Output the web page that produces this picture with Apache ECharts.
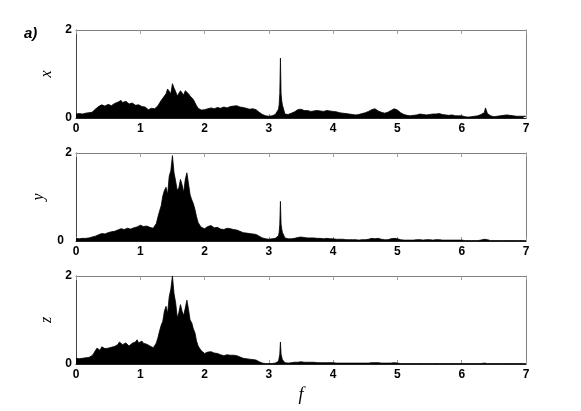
<!DOCTYPE html>
<html><head><meta charset="utf-8">
<script src="https://cdn.jsdelivr.net/npm/echarts/dist/echarts.min.js"></script>
<style>html,body{margin:0;padding:0;background:#fff}#c{width:581px;height:411px}</style>
</head><body><div id="c"></div>
<script>
// frequency grid 0..7 step 0.05 (141 samples) and half-step samples 0.025..2.975 (60 samples)
const gridF = Array.from({length:141},(_,i)=>Math.round(i*5)/100);
const midF = Array.from({length:60},(_,i)=>Math.round(25+i*50)/1000);
const panelNames = ['x','y','z'];
const xAxisName = 'f';
const panelTag = 'a)';

const xVals = [
0.09,0.10,0.09,0.11,0.12,0.13,0.20,0.26,0.30,0.27,0.31,0.28,0.33,0.36,0.40,0.34,0.36,0.30,0.32,0.27,
0.29,0.24,0.22,0.20,0.19,0.24,0.34,0.45,0.55,0.62,0.78,0.60,0.52,0.58,0.62,0.55,0.48,0.35,0.22,0.18,
0.19,0.21,0.23,0.21,0.24,0.22,0.25,0.23,0.26,0.27,0.28,0.25,0.24,0.22,0.20,0.21,0.19,0.13,0.08,0.05,
0.04,0.05,0.08,0.20,0.40,0.09,0.08,0.11,0.14,0.19,0.20,0.17,0.17,0.15,0.16,0.17,0.16,0.15,0.17,0.16,
0.15,0.14,0.12,0.11,0.10,0.09,0.08,0.07,0.08,0.10,0.12,0.15,0.19,0.21,0.16,0.13,0.11,0.13,0.17,0.21,
0.18,0.12,0.08,0.06,0.05,0.06,0.07,0.09,0.08,0.07,0.08,0.09,0.09,0.10,0.08,0.07,0.06,0.07,0.05,0.05,
0.05,0.03,0.02,0.03,0.04,0.05,0.08,0.12,0.10,0.05,0.03,0.04,0.05,0.06,0.07,0.06,0.05,0.04,0.04,0.04,
0.04];
const yVals = [
0.06,0.05,0.06,0.06,0.07,0.09,0.11,0.14,0.17,0.16,0.19,0.21,0.22,0.25,0.28,0.26,0.29,0.27,0.30,0.32,
0.36,0.33,0.34,0.31,0.29,0.40,0.68,1.02,1.22,1.47,1.94,1.36,1.21,1.28,1.40,1.30,0.94,0.72,0.42,0.31,
0.28,0.33,0.35,0.30,0.31,0.27,0.26,0.29,0.28,0.26,0.25,0.22,0.19,0.18,0.17,0.16,0.15,0.11,0.07,0.05,
0.04,0.05,0.06,0.12,0.28,0.07,0.05,0.05,0.06,0.08,0.09,0.08,0.07,0.07,0.07,0.06,0.06,0.05,0.06,0.05,
0.05,0.04,0.04,0.04,0.03,0.03,0.03,0.03,0.02,0.03,0.03,0.04,0.06,0.05,0.06,0.04,0.03,0.03,0.05,0.06,
0.05,0.03,0.02,0.02,0.02,0.02,0.03,0.03,0.02,0.03,0.03,0.02,0.03,0.03,0.02,0.02,0.02,0.02,0.02,0.02,
0.02,0.01,0.01,0.01,0.01,0.01,0.02,0.04,0.03,0.01,0.01,0.01,0.01,0.01,0.01,0.01,0.01,0.01,0.01,0.01,
0.01];
const zVals = [
0.13,0.12,0.13,0.14,0.15,0.19,0.30,0.34,0.39,0.35,0.36,0.38,0.40,0.44,0.52,0.46,0.45,0.43,0.45,0.55,
0.49,0.47,0.45,0.41,0.37,0.48,0.75,0.97,1.31,1.53,2.00,1.39,1.17,1.20,1.27,1.24,0.94,0.71,0.41,0.30,
0.24,0.27,0.28,0.25,0.24,0.21,0.19,0.21,0.20,0.20,0.19,0.16,0.13,0.12,0.11,0.10,0.09,0.05,0.02,0.01,
0.01,0.01,0.02,0.06,0.16,0.03,0.02,0.03,0.04,0.04,0.05,0.04,0.04,0.04,0.04,0.03,0.03,0.03,0.03,0.03,
0.03,0.02,0.02,0.02,0.02,0.02,0.02,0.02,0.02,0.02,0.02,0.02,0.03,0.03,0.03,0.02,0.02,0.02,0.02,0.03,
0.02,0.01,0.01,0.01,0.01,0.01,0.01,0.01,0.01,0.01,0.01,0.01,0.01,0.01,0.01,0.01,0.01,0.01,0.01,0.01,
0.01,0.01,0.01,0.01,0.01,0.01,0.01,0.02,0.01,0.01,0.01,0.01,0.01,0.01,0.01,0.01,0.01,0.01,0.01,0.01,
0.01];
// half-step samples (noisy low-frequency part)
const xMid = [
0.11,0.08,0.10,0.12,0.10,0.16,0.22,0.24,0.32,0.25,0.34,0.26,0.30,0.38,0.35,0.38,0.32,0.34,0.29,0.30,
0.26,0.25,0.19,0.22,0.21,0.28,0.40,0.50,0.66,0.55,0.68,0.50,0.62,0.52,0.66,0.50,0.42,0.28,0.20,0.20,
0.22,0.19,0.24,0.20,0.25,0.24,0.22,0.27,0.24,0.29,0.26,0.27,0.22,0.23,0.19,0.22,0.16,0.10,0.06,0.04];
const yMid = [
0.05,0.07,0.05,0.07,0.08,0.10,0.13,0.15,0.18,0.18,0.20,0.23,0.20,0.27,0.25,0.30,0.26,0.31,0.28,0.35,
0.34,0.36,0.30,0.33,0.32,0.55,0.80,1.15,1.05,1.60,1.55,1.15,1.40,1.10,1.55,1.05,0.85,0.55,0.36,0.29,
0.31,0.36,0.32,0.33,0.28,0.30,0.28,0.27,0.30,0.24,0.23,0.21,0.19,0.16,0.18,0.15,0.13,0.09,0.06,0.04];
const zMid = [
0.12,0.14,0.12,0.15,0.17,0.24,0.36,0.31,0.40,0.38,0.34,0.41,0.43,0.50,0.44,0.48,0.41,0.47,0.50,0.48,
0.52,0.44,0.47,0.39,0.42,0.60,0.88,1.20,1.15,1.70,1.60,1.05,1.35,1.10,1.45,1.00,0.80,0.52,0.35,0.27,
0.26,0.29,0.25,0.27,0.22,0.20,0.22,0.19,0.22,0.18,0.17,0.14,0.13,0.11,0.11,0.08,0.07,0.03,0.02,0.01];
// extra fine samples around the narrow peaks
const peakF = [3.16,3.17,3.18,3.19,3.21,6.37];
const xPeak = [0.30,0.55,1.36,0.55,0.30,0.23];
const yPeak = [0.20,0.38,0.90,0.38,0.20,0.08];
const zPeak = [0.10,0.22,0.50,0.22,0.10,0.03];

function build(vals, mids, peaks){
  const pts = gridF.map((f,i)=>[f, vals[i]]);
  midF.forEach((f,i)=>pts.push([f, mids[i]]));
  peakF.forEach((f,i)=>pts.push([f, peaks[i]]));
  pts.sort((a,b)=>a[0]-b[0]);
  return pts;
}
const seriesData = [build(xVals,xMid,xPeak), build(yVals,yMid,yPeak), build(zVals,zMid,zPeak)];

const tops = [30,153,276];
const nameGaps = [19,28,19];
const lblFont = {fontFamily:'Liberation Sans, Arial, sans-serif', fontWeight:'bold', fontSize:12, color:'#000'};
const grids=[], xAxes=[], yAxes=[], series=[];
for (let i=0;i<3;i++){
  grids.push({left:76,right:55,top:tops[i],height:88});
  xAxes.push({
    type:'value', gridIndex:i, position:'bottom', min:0, max:7, interval:1,
    axisLine:{show:true,onZero:false,lineStyle:{color:'#222',width:1}},
    axisTick:{show:true,inside:true,length:4,lineStyle:{color:'#999'}},
    axisLabel:Object.assign({margin:5}, lblFont),
    splitLine:{show:false},
    name: i===2 ? xAxisName : '',
    nameLocation:'middle', nameGap:22,
    nameTextStyle:{fontFamily:'Liberation Serif, Times New Roman, serif', fontStyle:'italic', fontSize:18, color:'#000'}
  });
  xAxes.push({
    type:'value', gridIndex:i, position:'top', min:0, max:7, interval:1,
    axisLine:{show:true,onZero:false,lineStyle:{color:'#808080',width:1}},
    axisTick:{show:true,inside:true,length:4,lineStyle:{color:'#a0a0a0'}},
    axisLabel:{show:false}, splitLine:{show:false}
  });
  yAxes.push({
    type:'value', gridIndex:i, position:'left', min:0, max:2, interval:2,
    axisLine:{show:true,onZero:false,lineStyle:{color:'#444',width:1}},
    axisTick:{show:false},
    axisLabel:Object.assign({margin:4,
      formatter: v => (i===1 && v===0) ? '{p|0}' : String(v),
      rich:{p:Object.assign({padding:[0,8,0,0]}, lblFont)}}, lblFont),
    splitLine:{show:false},
    name: panelNames[i], nameLocation:'middle', nameRotate:90, nameGap:nameGaps[i],
    nameTextStyle:{fontFamily:'Liberation Serif, Times New Roman, serif', fontStyle:'italic', fontSize:16, color:'#000'}
  });
  yAxes.push({
    type:'value', gridIndex:i, position:'right', min:0, max:2, interval:2,
    axisLine:{show:true,onZero:false,lineStyle:{color:'#808080',width:1}},
    axisTick:{show:false}, axisLabel:{show:false}, splitLine:{show:false}
  });
  series.push({
    type:'line', xAxisIndex:2*i, yAxisIndex:2*i, data:seriesData[i],
    showSymbol:false, symbol:'none', animation:false,
    lineStyle:{color:'#000',width:0.8},
    areaStyle:{color:'#000',opacity:1}
  });
}

const chart = echarts.init(document.getElementById('c'), null, {renderer:'canvas'});
chart.setOption({
  backgroundColor:'#fff',
  animation:false,
  grid:grids, xAxis:xAxes, yAxis:yAxes, series:series,
  graphic:[{type:'text', left:24, top:26, style:{text:panelTag, font:'italic bold 15px "Liberation Sans", Arial, sans-serif', fill:'#000'}}]
});
</script></body></html>
